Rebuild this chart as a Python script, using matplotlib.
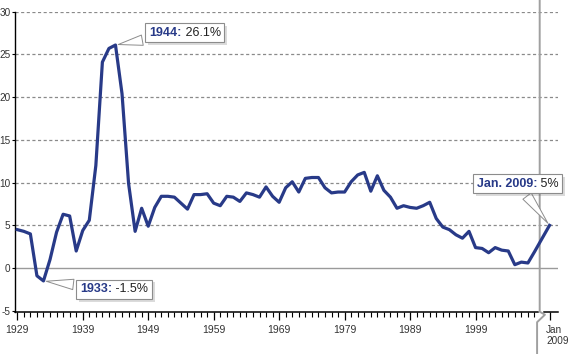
import numpy as np
import matplotlib as mpl
mpl.use('Agg')
import matplotlib.pyplot as plt
from matplotlib.offsetbox import TextArea, HPacker, AnnotationBbox
import matplotlib.patheffects as pe
import matplotlib.transforms as mtrans

plt.rcParams['font.family'] = ['Liberation Sans', 'DejaVu Sans']
plt.rcParams['axes.unicode_minus'] = False

# annual values, plus the Jan. 2009 point
years = list(range(1929, 2009))
rate = [4.5, 4.3, 4.0, -0.9, -1.5, 1.0, 4.2, 6.3, 6.1, 2.0,
        4.4, 5.6, 12.0, 24.1, 25.7, 26.1, 20.4, 9.9, 4.3, 7.0,
        4.9, 7.1, 8.4, 8.4, 8.3, 7.6, 6.9, 8.6, 8.6, 8.7,
        7.6, 7.3, 8.4, 8.3, 7.8, 8.8, 8.6, 8.3, 9.5, 8.4,
        7.7, 9.4, 10.1, 8.9, 10.5, 10.6, 10.6, 9.4, 8.8, 8.9,
        8.9, 10.1, 10.9, 11.2, 9.0, 10.8, 9.1, 8.3, 7.0, 7.3,
        7.1, 7.0, 7.3, 7.7, 5.8, 4.8, 4.5, 3.9, 3.5, 4.3,
        2.4, 2.3, 1.8, 2.4, 2.1, 2.0, 0.4, 0.7, 0.6, 1.9]
jan09_label = 'Jan\n2009'
jan09_value = 5.0
major_years = [1929, 1939, 1949, 1959, 1969, 1979, 1989, 1999]
yticks = [-5, 0, 5, 10, 15, 20, 25, 30]

callouts = [
    # (bold part, plain part, x, y, offset in points)
    ('1944:', ' 26.1%', 1944, 26.1, (50, 9)),
    ('1933:', ' -1.5%', 1933, -1.5, (51, -6)),
    ('Jan. 2009:', ' 5%', None, jan09_value, (-23, 30)),
]

NAVY = '#283a88'
JAN09_POS = 2010.3   # position after the axis break
BREAK_X = 2008.8
X0, X1 = 1928.65, 2011.6

fig = plt.figure(figsize=(5.7, 3.54), dpi=100)
ax = fig.add_axes([0.0263, 0.1195, 0.979 - 0.0263, 0.967 - 0.1195])

xs = years + [JAN09_POS]
ys = rate + [jan09_value]
ax.plot(xs, ys, color=NAVY, lw=2.3, solid_joinstyle='round', zorder=5)

ax.set_xlim(X0, X1)
ax.set_ylim(-5.1, 30)

for v in yticks:
    if v > 0:
        ax.axhline(v, color='#8a8a8a', lw=0.9, ls=(0, (2.5, 2)), zorder=1)
ax.axhline(0, color='#9a9a9a', lw=1.0, zorder=1)

for s in ['top', 'right', 'bottom']:
    ax.spines[s].set_visible(False)
ax.spines['left'].set_linewidth(1.0)

ax.set_yticks(yticks)
ax.tick_params(axis='y', length=2.5, width=0.8, pad=0.6, labelsize=7.2,
               labelcolor='#333333')

ax.set_xticks(major_years + [JAN09_POS])
ax.set_xticklabels([str(y) for y in major_years] + [jan09_label])
ax.set_xticks(years, minor=True)
ax.tick_params(axis='x', which='major', length=6, width=0.9, pad=3.5,
               labelsize=7.5, labelcolor='#333333')
ax.tick_params(axis='x', which='minor', length=3.5, width=0.8)
lbl = ax.get_xticklabels()[-1]
lbl.set_horizontalalignment('left')
lbl.set_verticalalignment('top')
lbl.set_fontsize(7.2)
lbl.set_transform(lbl.get_transform() +
                  mtrans.ScaledTranslation(-2.5 / 72, 0, fig.dpi_scale_trans))

# bottom axis with a break
tr = mtrans.blended_transform_factory(ax.transData, ax.transAxes)
ax.plot([X0, 2008.5], [0, 0], color='black', lw=1.1, transform=tr,
        clip_on=False)
ax.plot([2009.4, X1], [0, 0], color='black', lw=1.1, transform=tr,
        clip_on=False)
ax.plot([BREAK_X, BREAK_X, BREAK_X + 0.8, BREAK_X - 0.4, BREAK_X - 0.4],
        [1.04, 0.0, -0.01, -0.035, -0.16], color='#a0a0a0', lw=1.4,
        transform=tr, clip_on=False, zorder=4)

shadow = [pe.SimplePatchShadow(offset=(2, -2), alpha=0.2), pe.Normal()]
for bold, plain, x, y, off in callouts:
    if x is None:
        x = JAN09_POS
    box = HPacker(children=[
        TextArea(bold, textprops=dict(color=NAVY, fontweight='bold',
                                      fontsize=9)),
        TextArea(plain, textprops=dict(color='#222222', fontsize=9)),
    ], pad=0, sep=0)
    ab = AnnotationBbox(box, (x, y), xybox=off, xycoords='data',
                        boxcoords='offset points', pad=0.45, fontsize=9,
                        bboxprops=dict(boxstyle='square', ec='#8c8c8c',
                                       fc='white', lw=0.8,
                                       path_effects=shadow),
                        arrowprops=dict(arrowstyle='wedge,tail_width=0.6',
                                        fc='white', ec='#8c8c8c', lw=0.7,
                                        shrinkB=2),
                        zorder=6)
    ax.add_artist(ab)

fig.savefig('out.png', dpi=100)
